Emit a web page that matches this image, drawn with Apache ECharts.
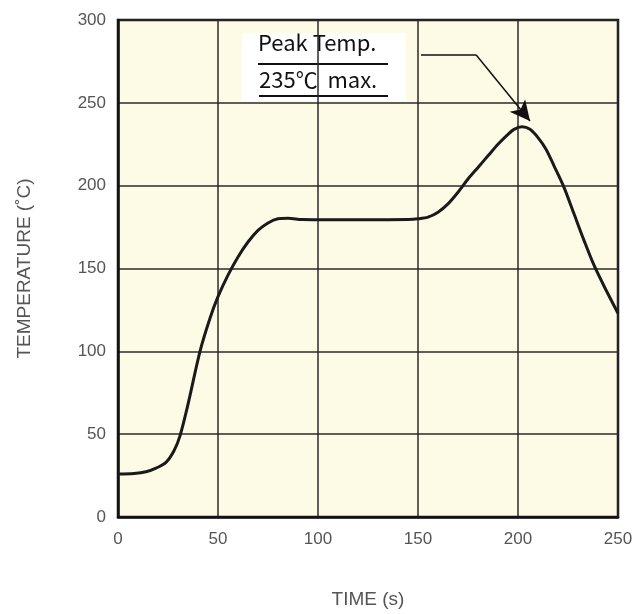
<!DOCTYPE html>
<html>
<head>
<meta charset="utf-8">
<script src="https://cdn.jsdelivr.net/npm/echarts@6/dist/echarts.min.js"></script>
<style>
html,body{margin:0;padding:0;background:#fff;}
#c{width:636px;height:614px;}
</style>
</head>
<body>
<div id="c"></div>
<script>
// Time (s)
var timeS = [0, 8, 14, 19, 24, 28, 31, 35, 41, 46, 50, 55, 60, 65, 70, 75, 80, 85, 92, 100, 115, 130, 145, 150, 155, 160, 165, 170, 175, 180, 185, 190, 195, 198, 202, 206, 210, 214, 218, 223, 228, 233, 238, 244, 250];
// Temperature (°C)
var tempC = [26, 26.3, 27.3, 29.5, 33, 40, 49, 68, 100, 120, 133, 146, 157, 166, 173, 177.5, 180, 180.3, 179.6, 179.5, 179.5, 179.5, 179.6, 180, 181, 184, 189, 196, 204, 211, 218, 225, 231, 234, 235.5, 234, 229, 222, 212, 199, 183, 167, 152, 137, 123];
var xTicks = [0, 50, 100, 150, 200, 250];
var yTicks = [0, 50, 100, 150, 200, 250, 300];
// annotation leader (data units): start, corner, arrow tip
var leaderStart = [151.5, 279];
var leaderCorner = [179, 279];
var leaderTip = [206, 239];
var noteLines = ['Peak Temp.', '235\u2103  max.'];

var chart = echarts.init(document.getElementById('c'));
var lineData = timeS.map(function (t, i) { return [t, tempC[i]]; });
var labelFont = {fontFamily: '"Liberation Sans", Arial, sans-serif', fontSize: 17, color: '#555'};
var nameFont = {fontFamily: '"Liberation Sans", Arial, sans-serif', fontSize: 19, color: '#555'};

chart.setOption({
  animation: false,
  grid: {left: 118, right: 18, top: 20, bottom: 97, show: true, backgroundColor: '#fdfbe6', borderColor: '#111', borderWidth: 2.5},
  xAxis: {
    type: 'value', min: xTicks[0], max: xTicks[xTicks.length - 1], interval: 50,
    name: 'TIME (s)', nameLocation: 'middle', nameGap: 73,
    nameTextStyle: nameFont,
    axisLine: {show: true, lineStyle: {color: '#111', width: 2.5}},
    axisTick: {show: false},
    axisLabel: Object.assign({margin: 14, showMaxLabel: true, showMinLabel: true}, labelFont),
    splitLine: {show: true, lineStyle: {color: '#2a2a2a', width: 1.5}}
  },
  yAxis: {
    type: 'value', min: yTicks[0], max: yTicks[yTicks.length - 1], interval: 50,
    name: 'TEMPERATURE (\u02DAC)', nameLocation: 'middle', nameGap: 84,
    nameTextStyle: nameFont,
    axisLine: {show: true, lineStyle: {color: '#111', width: 2.5}},
    axisTick: {show: false},
    axisLabel: Object.assign({margin: 12}, labelFont),
    splitLine: {show: true, lineStyle: {color: '#2a2a2a', width: 1.5}}
  },
  series: [{
    type: 'line',
    data: lineData,
    smooth: 0.3,
    showSymbol: false,
    lineStyle: {color: '#1a1a1a', width: 3},
    markLine: {
      silent: true,
      animation: false,
      label: {show: false},
      lineStyle: {color: '#111', width: 1.5, type: 'solid'},
      data: [
        [{coord: leaderStart, symbol: 'none'}, {coord: leaderCorner, symbol: 'none'}],
        [{coord: leaderCorner, symbol: 'none'}, {coord: leaderTip, symbol: 'arrow', symbolSize: [15, 20]}]
      ]
    }
  }],
  graphic: [{
    type: 'group', left: 242, top: 32,
    children: [
      {type: 'rect', shape: {x: 0, y: 0, width: 164, height: 68}, style: {fill: '#fff'}},
      {type: 'text', x: 16, y: 10, style: {text: noteLines[0], font: '22px "Noto Sans CJK JP", sans-serif', fill: '#111', verticalAlign: 'middle'}},
      {type: 'line', shape: {x1: 16, y1: 31, x2: 146, y2: 31}, style: {stroke: '#111', lineWidth: 2}},
      {type: 'text', x: 17, y: 47, style: {text: noteLines[1], font: '22px "Noto Sans CJK JP", sans-serif', fill: '#111', verticalAlign: 'middle'}},
      {type: 'line', shape: {x1: 17, y1: 63, x2: 146, y2: 63}, style: {stroke: '#111', lineWidth: 2}}
    ]
  }]
});
</script>
</body>
</html>
